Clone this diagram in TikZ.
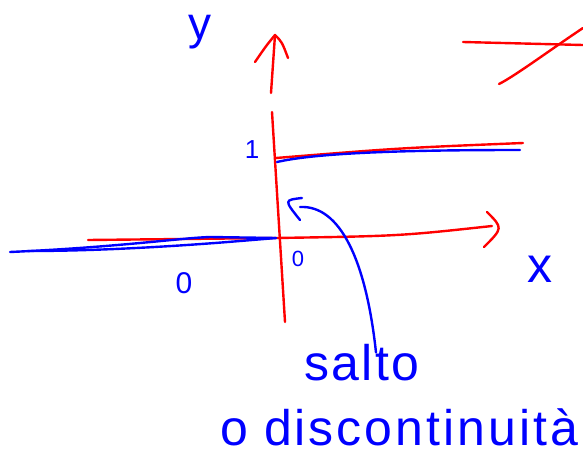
\documentclass[tikz,border=0pt]{standalone}
\usepackage{fontspec}
\setmainfont{Liberation Sans}
\usetikzlibrary{positioning}

\begin{document}
\begin{tikzpicture}[
    x=1pt, y=-1pt,
    every node/.style={text=blue, inner sep=0pt},
    redline/.style={draw=red, line width=2.4pt, line cap=round, line join=round},
    blueline/.style={draw=blue, line width=2.4pt, line cap=round, line join=round},
    biglabel/.style={font=\fontsize{50}{56}\selectfont},
    smalllabel/.style={font=\fontsize{26}{30}\selectfont}
]
\useasboundingbox (0,0) rectangle (583,455);

% Axes
\coordinate (origin) at (276,238);
\coordinate (ytip) at (275,35);
\coordinate (xtip) at (492,226);
\draw[redline] (285,322) -- (272,112);
\draw[redline] (271,93) -- (ytip);
\draw[redline] (255,62) .. controls (266,46) .. (ytip) .. controls (282,42) .. (288,58);
\draw[redline] (88,240) -- (origin) .. controls (400,236) .. (xtip);
\draw[redline] (487,212) .. controls (503,228) .. (484,247);

% Axis labels
\node[biglabel, font=\fontsize{46}{52}\selectfont] (ylab) at (200,32) {y};
\node[biglabel] (xlab) at (540,269) {x};
\node[smalllabel] (one) at (252,150) {1};
\node[smalllabel, font=\fontsize{30}{34}\selectfont] (zeroleft) at (184,283) {0};
\node[smalllabel, font=\fontsize{22}{26}\selectfont] (zeroorig) at (298,259) {0};

% Step function
\draw[redline] (origin |- 0,158) .. controls (400,148) .. (523,143);
\draw[blueline] (277,162) .. controls (320,152) and (420,150) .. (520,150);
\draw[blueline] (10,252) .. controls (120,247) and (180,238) .. (210,237) -- (origin);
\draw[blueline] (origin) -- (240,241) .. controls (180,246) and (100,251) .. (28,251);

% Other sketch, top right
\draw[redline] (463,42) -- (583,45);
\draw[redline] (499,84) .. controls (515,76) and (550,50) .. (583,28);

% Jump
\coordinate (jump) at (300,207);
\node[biglabel] (salto) at (362,363) {\addfontfeatures{LetterSpace=5}salto};
\node[biglabel, anchor=west] (disc) at (220,427) {o\hspace{16pt}\addfontfeatures{LetterSpace=6}discontinuità};
\draw[blueline] ([xshift=14pt,yshift=-8pt]salto.north) .. controls (366,260) and (340,205) .. (jump);
\draw[blueline] (302,198) .. controls (284,200) .. (300,220);

\end{tikzpicture}
\end{document}
